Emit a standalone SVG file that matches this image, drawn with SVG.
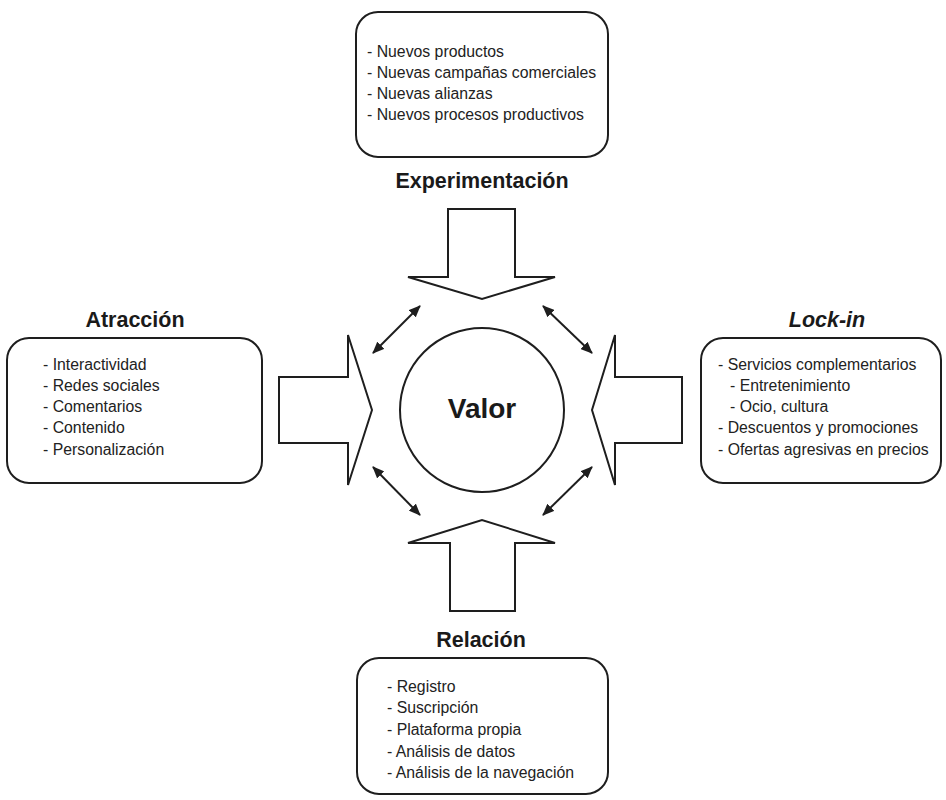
<svg xmlns="http://www.w3.org/2000/svg" width="946" height="800" viewBox="0 0 946 800">
<style>
.box{fill:#fff;stroke:#1e1e1e;stroke-width:2}
.arr{fill:#fff;stroke:#1e1e1e;stroke-width:2;stroke-linejoin:miter}
.it{font-family:"Liberation Sans",Arial,sans-serif;font-size:15.8px;fill:#222}
.ti{font-family:"Liberation Sans",Arial,sans-serif;font-size:21.5px;font-weight:bold;fill:#1a1a1a;text-anchor:middle}
.con{stroke:#1e1e1e;stroke-width:2;fill:none;marker-start:url(#ah);marker-end:url(#ah)}
</style>
<defs>
<marker id="ah" viewBox="0 0 12 10" refX="11" refY="5" markerWidth="12" markerHeight="10" markerUnits="userSpaceOnUse" orient="auto-start-reverse">
<path d="M0,0 L12,5 L0,10 Z" fill="#1e1e1e"/>
</marker>
</defs>
<rect width="946" height="800" fill="#fff"/>

<g id="valor">
<circle cx="482" cy="410" r="82" fill="#fff" stroke="#1e1e1e" stroke-width="2"/>
<text x="482" y="418" class="ti" style="font-size:28px">Valor</text>
</g>

<g id="experimentacion">
<rect x="356" y="12" width="252" height="145" rx="22" class="box"/>
<text class="it" x="367"><tspan x="367" y="57">- Nuevos productos</tspan><tspan x="367" y="78">- Nuevas campañas comerciales</tspan><tspan x="367" y="99">- Nuevas alianzas</tspan><tspan x="367" y="120">- Nuevos procesos productivos</tspan></text>
<text class="ti" x="482" y="188">Experimentación</text>
<path class="arr" d="M448,209 H515 V277 H555 L482,299 L408,277 H448 Z"/>
</g>

<g id="atraccion">
<text class="ti" x="135" y="327">Atracción</text>
<rect x="7" y="338" width="255" height="145" rx="22" class="box"/>
<text class="it"><tspan x="43" y="370">- Interactividad</tspan><tspan x="43" y="391">- Redes sociales</tspan><tspan x="43" y="412">- Comentarios</tspan><tspan x="43" y="433">- Contenido</tspan><tspan x="43" y="455">- Personalización</tspan></text>
<path class="arr" d="M279,377 H348 V335 L372,410 L348,485 V443 H279 Z"/>
</g>

<g id="lockin">
<text class="ti" x="827" y="327" font-style="italic">Lock-in</text>
<rect x="701" y="338" width="240" height="145" rx="22" class="box"/>
<text class="it"><tspan x="718" y="370">- Servicios complementarios</tspan><tspan x="730" y="391">- Entretenimiento</tspan><tspan x="730" y="412">- Ocio, cultura</tspan><tspan x="718" y="433">- Descuentos y promociones</tspan><tspan x="718" y="455">- Ofertas agresivas en precios</tspan></text>
<path class="arr" d="M682,377 H615 V335 L592,410 L615,485 V443 H682 Z"/>
</g>

<g id="relacion">
<path class="arr" d="M450,611 H515 V543 H555 L482,520 L408,543 H450 Z"/>
<text class="ti" x="481" y="647">Relación</text>
<rect x="357" y="658" width="251" height="136" rx="22" class="box"/>
<text class="it"><tspan x="387" y="692">- Registro</tspan><tspan x="387" y="713">- Suscripción</tspan><tspan x="387" y="735">- Plataforma propia</tspan><tspan x="387" y="757">- Análisis de datos</tspan><tspan x="387" y="778">- Análisis de la navegación</tspan></text>
</g>

<g id="connectors">
<line class="con" x1="373" y1="353" x2="420" y2="306"/>
<line class="con" x1="543" y1="306" x2="592" y2="353"/>
<line class="con" x1="373" y1="467" x2="420" y2="515"/>
<line class="con" x1="543" y1="515" x2="592" y2="467"/>
</g>
</svg>
